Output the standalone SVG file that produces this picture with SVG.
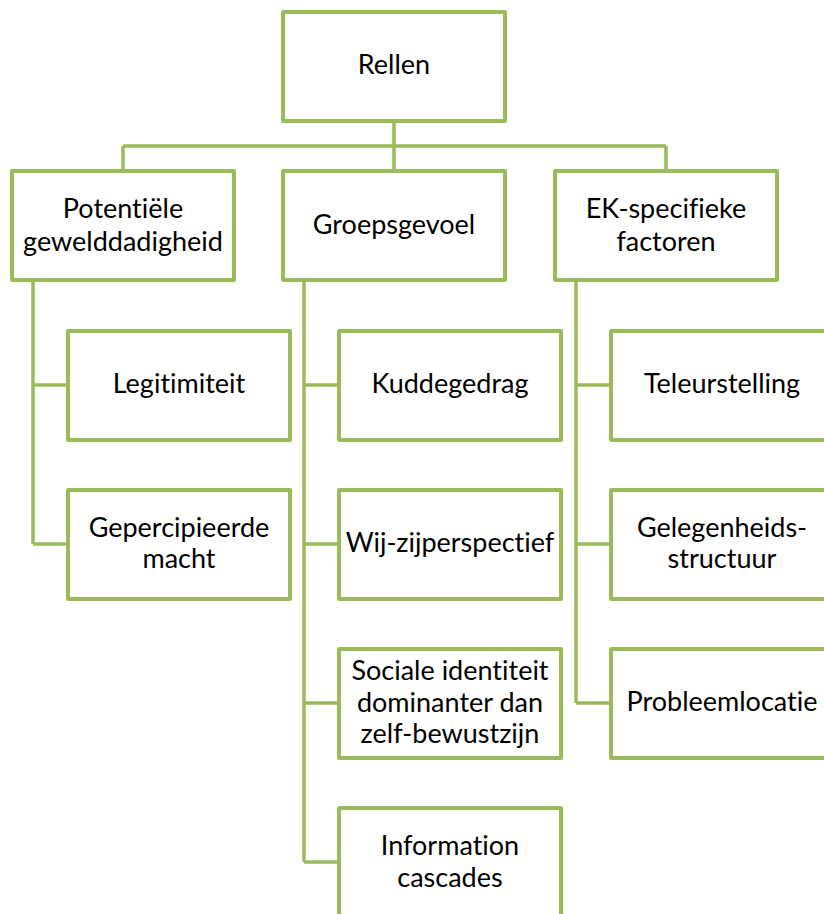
<svg xmlns="http://www.w3.org/2000/svg" width="824" height="914" viewBox="0 0 824 914">
<style>
.box{fill:#fff;stroke:#9BBB59;stroke-width:4;stroke-linejoin:round}
.con{fill:none;stroke:#9BBB59;stroke-width:3.5}
text{font-family:Lato,"Open Sans","Liberation Sans",sans-serif;font-size:27px;fill:#000;text-anchor:middle;font-variant-ligatures:none;font-feature-settings:"liga" 0,"dlig" 0}
</style>
<rect width="824" height="914" fill="#fff"/>
<g id="connectors">
<path class="con" d="M394,123 V169 M123,146 H666 M123,146 V169 M666,146 V169"/>
<path class="con" d="M33,282 V544 M33,385 H66 M33,544 H66"/>
<path class="con" d="M304,282 V862 M304,385 H337 M304,544 H337 M304,703 H337 M304,862 H337"/>
<path class="con" d="M576,282 V703 M576,385 H609 M576,544 H609 M576,703 H609"/>
</g>
<g id="rellen"><rect class="box" x="283" y="12" width="222" height="109"/><text x="394" y="74">Rellen</text></g>
<g id="potentiele"><rect class="box" x="12" y="171" width="222" height="109"/><text x="123" y="218">Potentiële</text><text x="123" y="251">gewelddadigheid</text></g>
<g id="groepsgevoel"><rect class="box" x="283" y="171" width="222" height="109"/><text x="394" y="234">Groepsgevoel</text></g>
<g id="ek"><rect class="box" x="555" y="171" width="222" height="109"/><text x="666" y="218">EK-specifieke</text><text x="666" y="251">factoren</text></g>
<g id="legitimiteit"><rect class="box" x="68" y="331" width="222" height="109"/><text x="179" y="393">Legitimiteit</text></g>
<g id="gepercipieerde"><rect class="box" x="68" y="490" width="222" height="109"/><text x="179" y="537">Gepercipieerde</text><text x="179" y="568">macht</text></g>
<g id="kuddegedrag"><rect class="box" x="339" y="331" width="222" height="109"/><text x="450" y="393">Kuddegedrag</text></g>
<g id="wijzij"><rect class="box" x="339" y="490" width="222" height="109"/><text x="450" y="552">Wij-zijperspectief</text></g>
<g id="sociale"><rect class="box" x="339" y="649" width="222" height="109"/><text x="450" y="680">Sociale identiteit</text><text x="450" y="712">dominanter dan</text><text x="450" y="743">zelf-bewustzijn</text></g>
<g id="information"><rect class="box" x="339" y="808" width="222" height="109"/><text x="450" y="855">Information</text><text x="450" y="887">cascades</text></g>
<g id="teleurstelling"><rect class="box" x="611" y="331" width="222" height="109"/><text x="722" y="393">Teleurstelling</text></g>
<g id="gelegenheid"><rect class="box" x="611" y="490" width="222" height="109"/><text x="722" y="537">Gelegenheids-</text><text x="722" y="568">structuur</text></g>
<g id="probleem"><rect class="box" x="611" y="649" width="222" height="109"/><text x="722" y="711">Probleemlocatie</text></g>
</svg>
